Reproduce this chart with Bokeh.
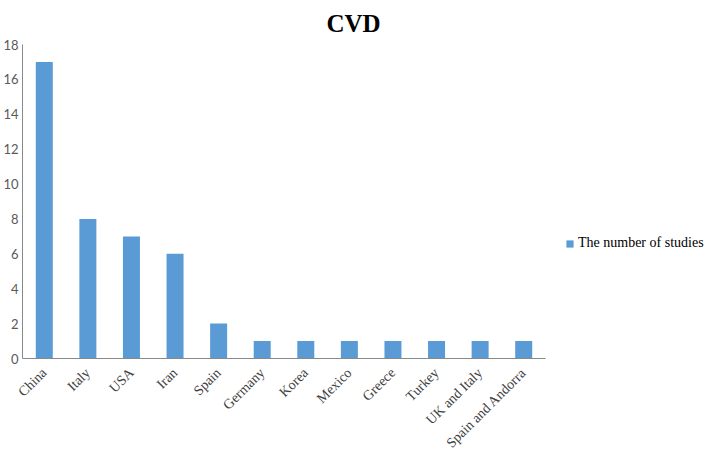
import math
from bokeh.plotting import figure
from bokeh.models import ColumnDataSource, Range1d, SingleIntervalTicker, Legend, LegendItem, Title
from bokeh.embed import file_html
from bokeh.resources import INLINE

countries = ["China", "Italy", "USA", "Iran", "Spain", "Germany", "Korea", "Mexico",
             "Greece", "Turkey", "UK and Italy", "Spain and Andorra"]
studies = [17, 8, 7, 6, 2, 1, 1, 1, 1, 1, 1, 1]
series_name = "The number of studies"
title_text = "CVD"

src = ColumnDataSource(dict(country=countries, n=studies))

p = figure(x_range=countries, y_range=Range1d(0, 18),
           frame_width=523, frame_height=314,
           output_backend="svg", toolbar_location=None,
           min_border_left=15, min_border_right=10, min_border_top=37, min_border_bottom=80)
p.x_range.range_padding = 0
p.outline_line_color = None
p.grid.grid_line_color = None

r = p.vbar(x="country", top="n", width=0.39, source=src, color="#5B9BD5", line_color=None)

t = Title(text=title_text, align="left", offset=304, text_font="Liberation Serif",
          text_font_size="25px", text_font_style="bold", text_color="#000000",
          standoff=15)
p.title = t

p.yaxis.ticker = SingleIntervalTicker(interval=2)
p.yaxis.major_tick_line_color = None
p.yaxis.minor_tick_line_color = None
p.yaxis.major_tick_out = 0
p.yaxis.axis_line_color = "#898989"
p.yaxis.major_label_text_font = "Lato"
p.yaxis.major_label_text_font_size = "13px"
p.yaxis.major_label_text_color = "#595959"
p.yaxis.major_label_standoff = 0

p.xaxis.major_tick_line_color = None
p.xaxis.minor_tick_line_color = None
p.xaxis.major_tick_out = 0
p.xaxis.axis_line_color = "#898989"
p.xaxis.major_label_orientation = math.pi / 4
p.xaxis.major_label_text_font = "Liberation Serif"
p.xaxis.major_label_text_font_size = "14px"
p.xaxis.major_label_text_color = "#404040"
p.xaxis.major_label_standoff = 12

legend = Legend(items=[LegendItem(label=series_name, renderers=[r])],
                location=(20, 107), border_line_color=None, background_fill_alpha=0,
                label_text_font="Liberation Serif", label_text_font_size="14px",
                label_text_color="#000000", glyph_width=9, glyph_height=9,
                padding=0, margin=0, label_standoff=4, spacing=0)
p.add_layout(legend, "right")

open("out.html", "w").write(file_html(p, INLINE))
